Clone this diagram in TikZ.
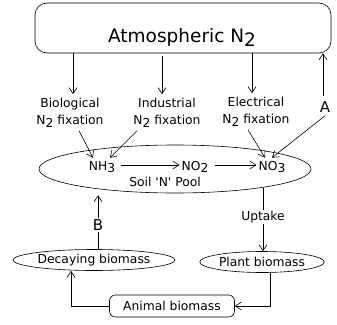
\documentclass[tikz,border=0pt]{standalone}
\usepackage{fontspec}
\setmainfont{DejaVu Sans}[Ligatures=TeXOff]
\usetikzlibrary{arrows.meta,shapes.geometric}
\newcommand{\lowr}[1]{\raisebox{-0.4ex}{#1}}
\begin{document}
\begin{tikzpicture}[x=1pt,y=-1pt,line width=0.6pt,
  arr/.style={-{Straight Barb[length=6pt,width=8pt]}},
  lbl/.style={font=\fontsize{12.3}{17}\selectfont,align=center,inner sep=1pt},
  big/.style={font=\fontsize{15}{17}\selectfont,inner sep=1pt},
  ell/.style={draw,ellipse,inner sep=0pt}]
\useasboundingbox (0,0) rectangle (337,324);
% top box
\node[draw,rounded corners=12,minimum width=296,minimum height=50,inner sep=0pt] (atm) at (183,28) {};
\node[font=\fontsize{18.5}{20}\selectfont,inner sep=0pt] (atmt) at (182,37) {Atmospheric N\lowr{2}};
% fixation labels
\node[lbl] (bio) at (70,113) {Biological\\N\lowr{2} fixation};
\node[lbl] (ind) at (167,113) {Industrial\\N\lowr{2} fixation};
\node[lbl] (ele) at (256,112) {Electrical\\N\lowr{2} fixation};
\node[big] (A) at (325,107) {A};
% pool
\node[ell,minimum width=272,minimum height=48] (pool) at (175,169) {};
\node[lbl] (nh3) at (102,167) {NH\lowr{3}};
\node[lbl] (no2) at (195,167) {NO\lowr{2}};
\node[lbl] (no3) at (272,167) {NO\lowr{3}};
\node[lbl] (soil) at (165,182) {Soil 'N' Pool};
% lower
\node[big] (B) at (98,225) {B};
\node[lbl] (up) at (263,217) {Uptake};
\node[ell,lbl,minimum width=138,minimum height=21] (dec) at (94,260) {Decaying biomass};
\node[ell,lbl,minimum width=116,minimum height=21] (plant) at (262,262) {Plant biomass};
\node[draw,lbl,rounded corners=6,minimum width=125,minimum height=22] (animal) at (172,306) {Animal biomass};
% arrows from atmosphere
\draw[arr] ([xshift=3]atm.south -| bio.north) -- ([xshift=3,yshift=3]bio.north);
\draw[arr] ([xshift=-5,yshift=-3]atm.south -| ind.north) -- ([xshift=-5,yshift=3]ind.north);
\draw[arr] ([xshift=-4]atm.south -| ele.north) -- ([xshift=-4,yshift=3]ele.north);
\draw[arr] ([xshift=-2,yshift=4]A.north) -- ([xshift=-2]A.north |- atm.south);
% diagonal
\draw[arr] ([xshift=9,yshift=-2]bio.south) -- ([xshift=-9,yshift=2]nh3.north);
\draw[arr] ([xshift=-30,yshift=-2]ind.south) -- ([xshift=8,yshift=2]nh3.north);
\draw[arr] ([xshift=-8,yshift=-2]ele.south) -- ([xshift=-7,yshift=2]no3.north);
\draw[arr] ([yshift=-2]A.south) -- ([yshift=2]no3.north);
% within pool
\draw[arr,shorten <=5pt,shorten >=1pt] ([yshift=2]nh3.east) -- ([yshift=2]no2.west);
\draw[arr,shorten <=5pt,shorten >=1pt] ([yshift=2]no2.east) -- ([yshift=2]no3.west);
% B and uptake
\draw (dec.north -| B) -- (B.south);
\draw[arr] (B.north) -- ([yshift=-2]B |- pool.south);
\draw ([yshift=5]up |- pool.south) -- (up.north);
\draw[arr] (up.south) -- (up |- plant.north);
% bottom loop
\draw[arr] ([xshift=8]plant.south) |- (animal.east);
\draw[arr] (animal.west) -| ([xshift=-23]dec.south);
\end{tikzpicture}
\end{document}
